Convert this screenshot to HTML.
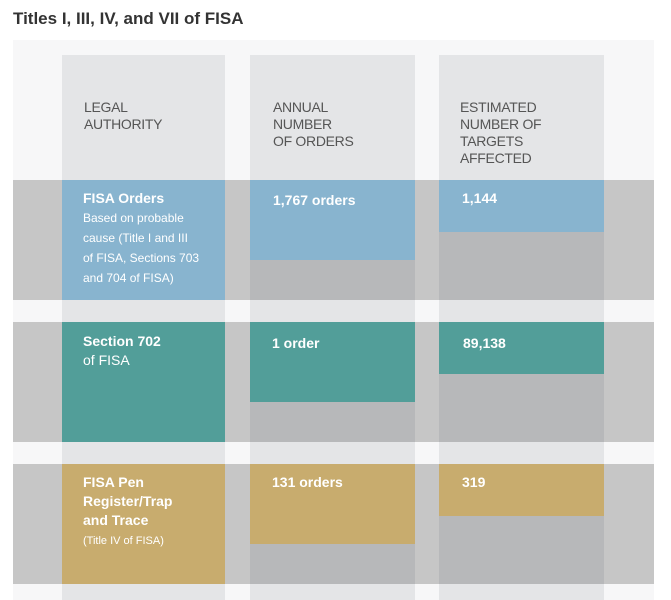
<!DOCTYPE html><html><head><style>
body{margin:0;width:671px;height:600px;background:#fff;position:relative;overflow:hidden;font-family:"Liberation Sans",sans-serif}
div{position:absolute;box-sizing:border-box}
.t{color:#fff;font-size:14px;line-height:19px;font-weight:bold}
.s{font-weight:normal;font-size:12px;line-height:19px}
.h{color:#555;font-size:14px;line-height:17px;letter-spacing:-0.3px}
</style></head><body>
<div style="left:13px;top:9px;font-size:17px;font-weight:bold;color:#333">Titles I, III, IV, and VII of FISA</div>
<div style="left:13px;top:40px;width:641px;height:560px;background:#f7f7f8"></div>
<div style="left:62px;top:55px;width:163px;height:545px;background:#e4e5e7"></div>
<div style="left:250px;top:55px;width:165px;height:545px;background:#e4e5e7"></div>
<div style="left:439px;top:55px;width:165px;height:545px;background:#e4e5e7"></div>
<div class="h" style="left:84px;top:99px">LEGAL<br>AUTHORITY</div>
<div class="h" style="left:273px;top:99px">ANNUAL<br>NUMBER<br>OF ORDERS</div>
<div class="h" style="left:460px;top:99px">ESTIMATED<br>NUMBER OF<br>TARGETS<br>AFFECTED</div>

<div style="left:13px;top:180px;width:641px;height:120px;background:#c6c6c6"></div>
<div style="left:250px;top:180px;width:165px;height:120px;background:#b7b8ba"></div>
<div style="left:439px;top:180px;width:165px;height:120px;background:#b7b8ba"></div>
<div style="left:62px;top:180px;width:163px;height:120px;background:#88b4cf"></div>
<div style="left:250px;top:180px;width:165px;height:80px;background:#88b4cf"></div>
<div style="left:439px;top:180px;width:165px;height:52px;background:#88b4cf"></div>
<div class="t" style="left:83px;top:189px">FISA Orders<br><span class="s">Based on probable<br>cause (Title I and III<br>of FISA, Sections 703<br>and 704 of FISA)</span></div>
<div class="t" style="left:273px;top:191px">1,767 orders</div>
<div class="t" style="left:462px;top:189px">1,144</div>

<div style="left:13px;top:322px;width:641px;height:120px;background:#c6c6c6"></div>
<div style="left:250px;top:322px;width:165px;height:120px;background:#b7b8ba"></div>
<div style="left:439px;top:322px;width:165px;height:120px;background:#b7b8ba"></div>
<div style="left:62px;top:322px;width:163px;height:120px;background:#529e99"></div>
<div style="left:250px;top:322px;width:165px;height:80px;background:#529e99"></div>
<div style="left:439px;top:322px;width:165px;height:52px;background:#529e99"></div>
<div class="t" style="left:83px;top:332px">Section 702<br><span style="font-weight:normal">of FISA</span></div>
<div class="t" style="left:272px;top:334px">1 order</div>
<div class="t" style="left:463px;top:334px">89,138</div>

<div style="left:13px;top:464px;width:641px;height:120px;background:#c6c6c6"></div>
<div style="left:250px;top:464px;width:165px;height:120px;background:#b7b8ba"></div>
<div style="left:439px;top:464px;width:165px;height:120px;background:#b7b8ba"></div>
<div style="left:62px;top:464px;width:163px;height:120px;background:#c8ac6e"></div>
<div style="left:250px;top:464px;width:165px;height:80px;background:#c8ac6e"></div>
<div style="left:439px;top:464px;width:165px;height:52px;background:#c8ac6e"></div>
<div class="t" style="left:83px;top:473px">FISA Pen<br>Register/Trap<br>and Trace<br><span class="s" style="font-size:11px">(Title IV of FISA)</span></div>
<div class="t" style="left:272px;top:473px">131 orders</div>
<div class="t" style="left:462px;top:473px">319</div>
</body></html>
